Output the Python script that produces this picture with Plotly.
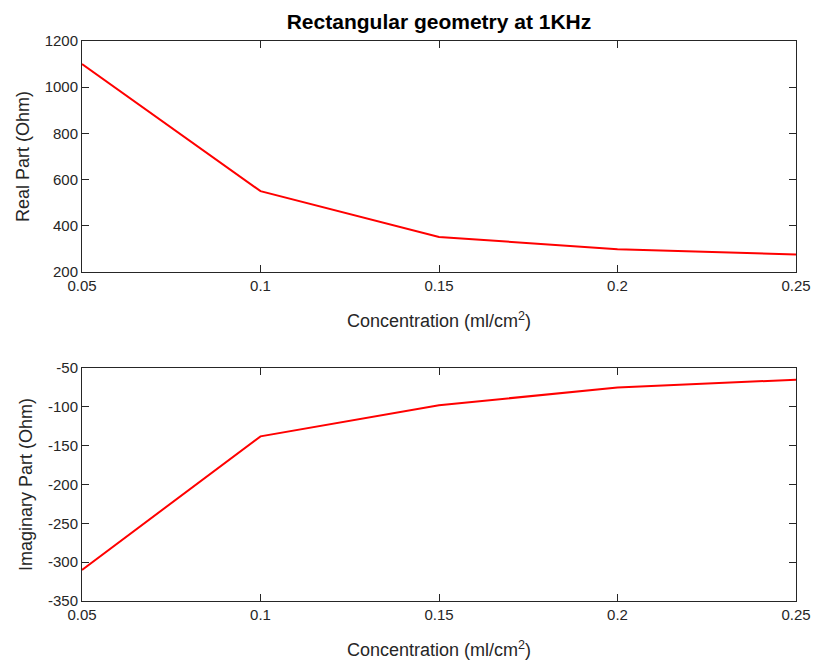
import plotly.graph_objects as go

concentration = [0.05, 0.1, 0.15, 0.2, 0.25]
real_part = [1100, 550, 352, 298, 276]
imag_part = [-310, -138, -98, -75, -65]

x_ticks = [0.05, 0.1, 0.15, 0.2, 0.25]
x_ticklabels = ["0.05", "0.1", "0.15", "0.2", "0.25"]
real_ticks = [200, 400, 600, 800, 1000, 1200]
real_ticklabels = ["200", "400", "600", "800", "1000", "1200"]
imag_ticks = [-350, -300, -250, -200, -150, -100, -50]
imag_ticklabels = ["-350", "-300", "-250", "-200", "-150", "-100", "-50"]

W, H = 814, 661
fig = go.Figure()
fig.add_trace(go.Scatter(x=concentration, y=real_part, mode="lines",
                         line=dict(color="#ff0000", width=2), xaxis="x", yaxis="y", showlegend=False))
fig.add_trace(go.Scatter(x=concentration, y=imag_part, mode="lines",
                         line=dict(color="#ff0000", width=2), xaxis="x2", yaxis="y2", showlegend=False))

xd = [82 / W, 796 / W]
top_dom = [1 - 272 / H, 1 - 41 / H]
bot_dom = [1 - 601 / H, 1 - 368 / H]

axis_common = dict(showline=True, linecolor="#262626", linewidth=1, mirror="ticks",
                   ticks="inside", ticklen=7, tickcolor="#262626", showgrid=False, zeroline=False,
                   automargin=False,
                   tickfont=dict(family="Liberation Sans, Arial", size=15, color="#262626"))
title_font = dict(family="Liberation Sans, Arial", size=18, color="#262626")
xtitle = "Concentration (ml/cm<sup>2</sup>)"

fig.update_layout(
    width=W, height=H,
    margin=dict(l=0, r=0, t=0, b=0),
    paper_bgcolor="white", plot_bgcolor="white",
    title=dict(text="<b>Rectangular geometry at 1KHz</b>", x=439 / W, xanchor="center",
               y=1 - 22 / H, yanchor="middle",
               font=dict(family="Liberation Sans, Arial", size=21, color="black")),
    xaxis=dict(domain=xd, anchor="y", range=[0.05, 0.25], tickvals=x_ticks, ticktext=x_ticklabels,
               title=dict(text=xtitle, font=title_font, standoff=21), **axis_common),
    yaxis=dict(domain=top_dom, anchor="x", range=[200, 1200], tickvals=real_ticks,
               ticktext=real_ticklabels,
               title=dict(text="Real Part (Ohm)", font=title_font, standoff=10), **axis_common),
    xaxis2=dict(domain=xd, anchor="y2", range=[0.05, 0.25], tickvals=x_ticks, ticktext=x_ticklabels,
                title=dict(text=xtitle, font=title_font, standoff=21), **axis_common),
    yaxis2=dict(domain=bot_dom, anchor="x2", range=[-350, -50], tickvals=imag_ticks,
                ticktext=imag_ticklabels,
                title=dict(text="Imaginary Part (Ohm)", font=title_font, standoff=10), **axis_common),
)

fig.write_html("out.html")
